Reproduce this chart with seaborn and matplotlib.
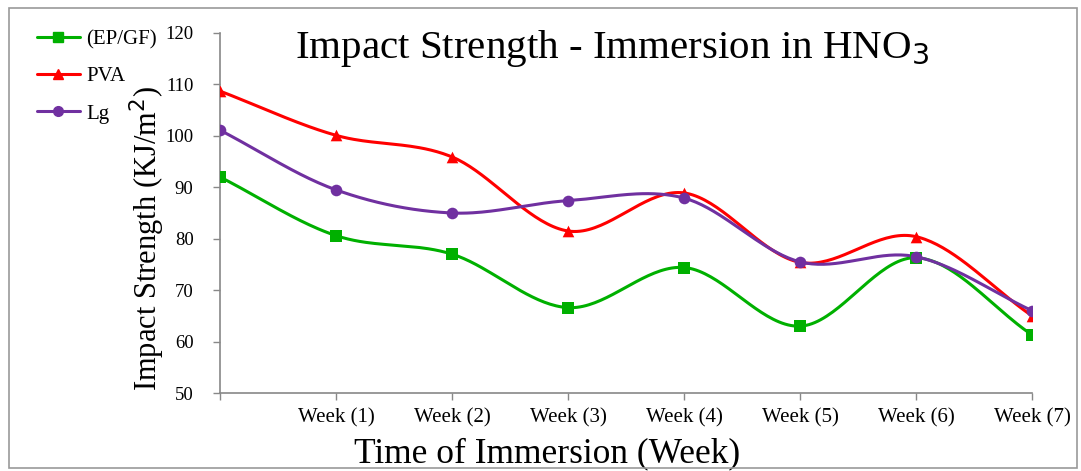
import numpy as np
import matplotlib
matplotlib.use("Agg")
import matplotlib.pyplot as plt
import seaborn as sns
from matplotlib.lines import Line2D
from matplotlib.patches import Rectangle

# данные
weeks = ["", "Week (1)", "Week (2)", "Week (3)", "Week (4)", "Week (5)", "Week (6)", "Week (7)"]
ep_gf = [92.0, 80.6, 77.0, 66.6, 74.4, 63.0, 76.3, 61.3]
pva = [108.7, 100.1, 95.9, 81.5, 88.9, 75.4, 80.4, 65.0]
lg = [101.1, 89.5, 85.0, 87.4, 87.9, 75.5, 76.5, 66.0]

series = [
    ("(EP/GF)", ep_gf, "#00B000", "s"),
    ("PVA", pva, "#FF0000", "^"),
    ("Lg", lg, "#7030A0", "o"),
]


def smooth(x, y, n=40):
    """Сглаживание как в Excel (Catmull-Rom)."""
    x = np.asarray(x, float)
    y = np.asarray(y, float)
    px = np.concatenate([[2 * x[0] - x[1]], x, [2 * x[-1] - x[-2]]])
    py = np.concatenate([[2 * y[0] - y[1]], y, [2 * y[-1] - y[-2]]])
    t = np.linspace(0, 1, n)
    xs, ys = [], []
    for i in range(1, len(px) - 2):
        for p, out in ((px, xs), (py, ys)):
            p0, p1, p2, p3 = p[i - 1], p[i], p[i + 1], p[i + 2]
            out.append(0.5 * ((2 * p1) + (-p0 + p2) * t
                              + (2 * p0 - 5 * p1 + 4 * p2 - p3) * t ** 2
                              + (-p0 + 3 * p1 - 3 * p2 + p3) * t ** 3))
    return np.concatenate(xs), np.concatenate(ys)


sns.set_style("white")
plt.rcParams["font.family"] = ["Liberation Serif", "DejaVu Serif"]
plt.rcParams["text.color"] = "black"
plt.rcParams["axes.labelcolor"] = "black"
plt.rcParams["xtick.labelcolor"] = "black"
plt.rcParams["ytick.labelcolor"] = "black"

fig = plt.figure(figsize=(10.81, 4.71), dpi=100)
ax = fig.add_axes([0.2035, 0.1656, 0.7512, 0.7644])

xpos = np.arange(len(weeks))
handles = []
for name, vals, color, marker in series:
    sx, sy = smooth(xpos, vals)
    ax.plot(sx, sy, color=color, lw=2.2, zorder=2)
    sns.scatterplot(x=xpos, y=vals, marker=marker, color=color, s=70,
                    edgecolor=color, linewidth=0, ax=ax, zorder=3)
    handles.append(Line2D([], [], color=color, lw=2.2, marker=marker,
                          markersize=7, label=name))

ax.set_xlim(0, len(weeks) - 1)
ax.set_ylim(50, 120)
ax.set_yticks(np.arange(50, 121, 10))
ax.set_xticks(xpos)
ax.set_xticklabels(weeks, fontsize=15)
ax.tick_params(axis="y", labelsize=13.5, pad=14, length=5, width=1, color="#888888", direction="out", left=True)
ax.tick_params(axis="x", pad=6, length=5, width=1, color="#888888", direction="out", bottom=True)
for s in ["top", "right"]:
    ax.spines[s].set_visible(False)
for s in ["left", "bottom"]:
    ax.spines[s].set_color("#888888")
    ax.spines[s].set_linewidth(1.2)

ax.set_ylabel("Impact Strength (KJ/m$^2$)", fontsize=22, va="center")
ax.yaxis.set_label_coords(-0.09, 0.43)
ax.set_xlabel("Time of Immersion (Week)", fontsize=25.5, va="center")
ax.xaxis.set_label_coords(0.403, -0.168)

fig.text(0.566, 0.877, "Impact Strength - Immersion in HNO$_3$", fontsize=29.5,
         ha="center", va="baseline")

fig.legend(handles=handles, loc="upper left", bbox_to_anchor=(0.0165, 0.977),
           frameon=False, fontsize=15, handlelength=2.1, labelspacing=0.85,
           handletextpad=0.3)

# рамка области диаграммы
fig.patches.append(Rectangle((0.008, 0.006), 0.988, 0.977, transform=fig.transFigure,
                             fill=False, edgecolor="#999999", lw=1.2, zorder=0))

plt.savefig("out.png", dpi=100)
plt.close()
